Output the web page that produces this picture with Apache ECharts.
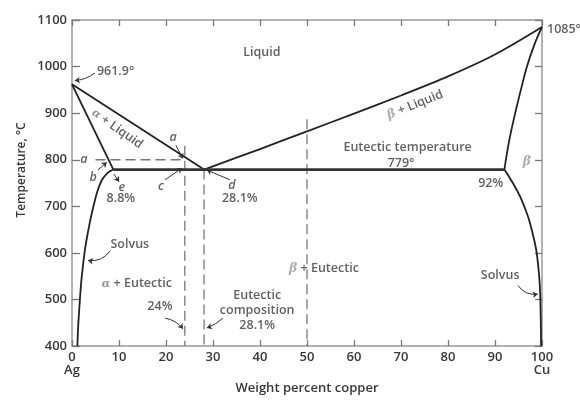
<!DOCTYPE html>
<html><head><meta charset="utf-8">
<script src="https://cdn.jsdelivr.net/npm/echarts@6/dist/echarts.min.js"></script>
<style>html,body{margin:0;padding:0;background:#fff}#c{width:580px;height:400px}</style>
</head><body><div id="c"></div>
<script>
// ---- phase boundary data (wt% Cu, °C) ----
const liquidusLeft  = [[0,961.9],[28.1,779]];
const solidusLeft   = [[0,961.9],[8.8,779]];
const solvusLeft    = [[8.8,779],[7.6,772],[6.4,757],[5.5,735],[4.8,710],[4.1,680],[3.4,645],[2.8,610],[2.3,570],[1.9,530],[1.55,480],[1.3,440],[1.15,400]];
const liquidusRight = [[28.1,779],[40,823],[50,861],[60,899],[70,938],[80,979],[90,1026],[100,1085]];
const solidusRight  = [[92,779],[93,840],[94.3,900],[95.5,950],[96.8,1000],[98.3,1045],[100,1085]];
const solvusRight   = [[92,779],[93.5,755],[95.3,722],[96.6,690],[97.4,666],[98.4,625],[98.9,598],[99.4,550],[99.6,515],[99.75,450],[99.8,400]];
const eutecticLine  = [[8.8,779],[92,779]];
const dash800       = [[5,800],[24,800]];
const dash24        = [[24,830],[24,400]];
const dash281       = [[28.1,779],[28.1,400]];
const dash50        = [[50,887],[50,400]];
// ---- axis ticks ----
const xTicks = [0,10,20,30,40,50,60,70,80,90,100];
const yTicks = [400,500,600,700,800,900,1000,1100];
// ---- annotations ----
const annText = ['Liquid','961.9°','{a|α} + Liquid','{i|a}','{i|a}','{i|b}','{i|e}','{i|c}','{i|d}','8.8%','28.1%',
  'Eutectic temperature','779°','{b|β} + Liquid','{b|β}','92%','1085°','Solvus','{a|α} + Eutectic','24%',
  'Eutectic\ncomposition\n28.1%','{b|β} + Eutectic','Solvus'];
const annAt = [[40.4,1030],[5.3,990.6],[9.6,866.7],[21.5,848],[2.55,800],[4.5,763],[10.6,740.7],[18.9,742.8],[34.0,744.9],[10.4,716],[35.7,718],
  [71.4,825.4],[70,792.3],[73,918],[96.8,796.5],[89.1,749],[101.06,1079],[12.3,618.9],[13.8,534],[18.7,484.7],
  [39.4,476],[53.6,567],[91.1,550.8]];
const annRotate = {2:-35, 13:22};
const annAlignLeft = {1:true, 16:true};
const leaders = [
  [[4.9,986.4],[0.6,970]],
  [[22.1,831],[23.6,802.6]],
  [[5.5,778],[7.4,794.4]],
  [[8.9,769.6],[10.0,753]],
  [[19.8,757],[23.4,782]],
  [[33.6,757],[28.7,777.9]],
  [[8.1,604.4],[3.4,583.8]],
  [[19.8,460],[23.6,437]],
  [[32.1,460],[28.7,439]],
  [[94.9,530],[99.1,511.5]]
];
const leaderCurve = [0.15,0,0,0,0,0,0.3,0.2,0.1,-0.3];

const FONT = 'Open Sans';
const TXT = '#383838';
const chart = echarts.init(document.getElementById('c'), null, {renderer:'canvas'});

function curve(data, smooth, extra){
  return Object.assign({type:'line', data, smooth, symbol:'none', silent:true,
    lineStyle:{color:'#222', width:1.8}, clip:false, z:3}, extra||{});
}
function dashed(data){
  return {type:'line', data, symbol:'none', silent:true,
    lineStyle:{color:'#777', width:1.3, type:[10,5]}, z:2};
}
function tick(len){
  return {show:true, inside:true, length:len, alignWithLabel:false, lineStyle:{color:'#777', width:1.3}};
}

const annData = annText.map((t,i)=>({
  value: annAt[i],
  label:{
    formatter: t,
    rotate: annRotate[i]||0,
    align: annAlignLeft[i] ? 'left' : 'center'
  }
}));

const option = {
  animation:false,
  backgroundColor:'#fff',
  grid:{left:72, right:38, top:20, bottom:41},
  xAxis:[{
    type:'value', min:0, max:100, interval:10, position:'bottom',
    axisLine:{onZero:false, lineStyle:{color:'#999', width:1.5}},
    axisTick:tick(6),
    splitLine:{show:false},
    axisLabel:{margin:5, color:TXT, fontFamily:FONT, fontSize:13, fontWeight:600, lineHeight:13,
      formatter:v=> v===0 ? '0\nAg' : (v===100 ? '100\nCu' : String(v))},
    name:'Weight percent copper', nameLocation:'middle', nameGap:27,
    nameTextStyle:{color:TXT, fontFamily:FONT, fontSize:13, fontWeight:600}
  },{
    type:'value', min:0, max:100, interval:10, position:'top',
    axisLine:{onZero:false, lineStyle:{color:'#999', width:1.5}},
    axisTick:tick(6),
    axisLabel:{show:false}, splitLine:{show:false}
  }],
  yAxis:[{
    type:'value', min:400, max:1100, interval:100, position:'left',
    axisLine:{onZero:false, lineStyle:{color:'#999', width:1.5}},
    axisTick:tick(8),
    splitLine:{show:false},
    axisLabel:{margin:5, color:TXT, fontFamily:FONT, fontSize:13, fontWeight:600, formatter:v=>String(v)}
  },{
    type:'value', min:400, max:1100, interval:100, position:'right',
    axisLine:{onZero:false, lineStyle:{color:'#999', width:1.5}},
    axisTick:tick(7),
    axisLabel:{show:false}, splitLine:{show:false}
  }],
  graphic:[{
    type:'text', x:22, y:170, rotation:Math.PI/2,
    style:{text:'Temperature, °C', fill:TXT, font:'600 12px "Open Sans"', textAlign:'center', textVerticalAlign:'middle'}
  }],
  series:[
    dashed(dash800), dashed(dash24), dashed(dash281), dashed(dash50),
    curve(liquidusLeft, false),
    curve(solidusLeft, false),
    curve(solvusLeft, 0.3),
    curve(liquidusRight, 0.3),
    curve(solidusRight, 0.4),
    curve(solvusRight, 0.4),
    curve(eutecticLine, false, {lineStyle:{color:'#333', width:2.8}}),
    {
      type:'lines', coordinateSystem:'cartesian2d', silent:true, z:4,
      symbol:['none','arrow'], symbolSize:5,
      lineStyle:{color:'#333', width:1, opacity:1},
      data: leaders.map((c,i)=>({coords:c, lineStyle:{curveness:leaderCurve[i]}}))
    },
    {
      type:'scatter', symbolSize:1, clip:false, silent:true, z:5,
      itemStyle:{color:'rgba(0,0,0,0)'},
      label:{show:true, position:'inside', color:TXT, fontFamily:FONT, fontSize:12.5, fontWeight:600, lineHeight:15,
        verticalAlign:'middle',
        rich:{
          i:{fontStyle:'italic', color:TXT, fontFamily:FONT, fontSize:12.5},
          a:{fontStyle:'italic', color:'#777', fontFamily:'DejaVu Serif', fontSize:11},
          b:{fontStyle:'italic', color:'#999', fontFamily:'DejaVu Serif', fontSize:12.5}
        }},
      data: annData
    }
  ]
};
chart.setOption(option);
</script></body></html>
